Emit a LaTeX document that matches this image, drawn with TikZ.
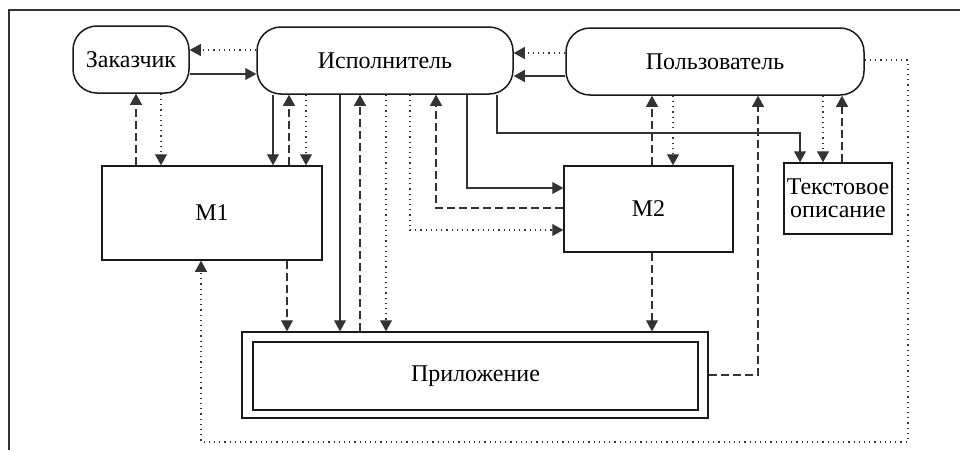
\documentclass[tikz,border=0pt]{standalone}
\usepackage{fontspec}
\setmainfont{Liberation Serif}
\usetikzlibrary{arrows.meta}
\begin{document}
\begin{tikzpicture}[x=1pt,y=-1pt,
  box/.style={draw=black!90, line width=1.5pt, inner sep=0pt, align=center, fill=white,
    font=\fontsize{24}{27}\selectfont},
  actor/.style={box, rounded corners=24pt},
  conn/.style={line width=1.1pt, draw=black!80, -{Triangle[length=11pt,width=12pt]}},
  sld/.style={conn},
  dsh/.style={conn, dash pattern=on 8pt off 4pt},
  dtt/.style={conn, dash pattern=on 1.2pt off 4pt}
]
\useasboundingbox (0,0) rectangle (960,450);
\draw[line width=1.1pt, draw=black!80] (9,450) -- (9,10) -- (960,10);

% nodes
\node[actor, minimum width=116pt, minimum height=67pt] (zak) at (131,59.5) {Заказчик};
\node[actor, minimum width=256pt, minimum height=67pt] (isp) at (385,60.5) {Исполнитель};
\node[actor, minimum width=298pt, minimum height=67pt] (pol) at (715,61.5) {Пользователь};
\node[box, minimum width=220pt, minimum height=94pt] (m1) at (212,213) {M1};
\node[box, minimum width=169pt, minimum height=86pt] (m2) at (648.5,209) {M2};
\node[box, minimum width=108pt, minimum height=71pt] (txt) at (838,198.5) {Текстовое\\[-4pt]описание};
\node[box, minimum width=466pt, minimum height=86pt] (app) at (475,375) {};
\node[box, minimum width=445pt, minimum height=68pt] (appin) at (475.5,376) {Приложение};

% connectors
\draw[dtt] (isp.west |- 0,50) -- (zak.east |- 0,50);
\draw[sld] (zak.east |- 0,74) -- (isp.west |- 0,74);
\draw[dsh] (m1.north -| 136,0) -- (zak.south -| 136,0);
\draw[dtt] (zak.south -| 161,0) -- (m1.north -| 161,0);
\draw[sld] (isp.south -| 273,0) -- (m1.north -| 273,0);
\draw[dsh] (m1.north -| 289,0) -- (isp.south -| 289,0);
\draw[dtt] (isp.south -| 306,0) -- (m1.north -| 306,0);
\draw[sld] (isp.south -| 340,0) -- (app.north -| 340,0);
\draw[dsh] (app.north -| 360,0) -- (isp.south -| 360,0);
\draw[dtt] (isp.south -| 386,0) -- (app.north -| 386,0);
\draw[dtt] (isp.south -| 410,0) |- (m2.west |- 0,230);
\draw[dsh] (m2.west |- 0,208) -| (isp.south -| 436,0);
\draw[sld] (isp.south -| 467,0) |- (m2.west |- 0,188);
\draw[sld] (isp.south -| 497,0) -- (497,133) -| (txt.north -| 800,0);
\draw[dtt] (pol.west |- 0,53) -- (isp.east |- 0,53);
\draw[sld] (pol.west |- 0,76) -- (isp.east |- 0,76);
\draw[dsh] (m2.north -| 652,0) -- (pol.south -| 652,0);
\draw[dtt] (pol.south -| 673,0) -- (m2.north -| 673,0);
\draw[dsh] (app.east |- 0,375) -| (pol.south -| 758,0);
\draw[dtt] (pol.south -| 823,0) -- (txt.north -| 823,0);
\draw[dsh] (txt.north -| 842,0) -- (pol.south -| 842,0);
\draw[dtt] (pol.east |- 0,60) -- (908,60) -- (908,442) -| (m1.south -| 201,0);
\draw[dsh] (m1.south -| 287,0) -- (app.north -| 287,0);
\draw[dsh] (m2.south -| 652,0) -- (app.north -| 652,0);
\end{tikzpicture}
\end{document}
